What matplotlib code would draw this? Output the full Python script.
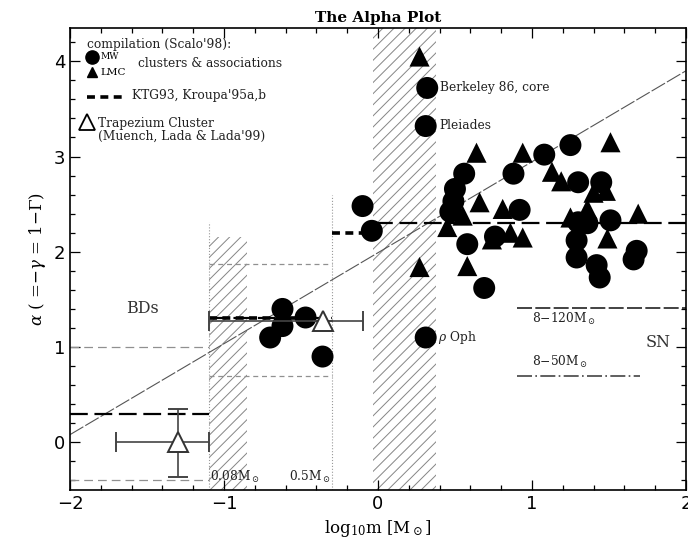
import numpy as np
import matplotlib.pyplot as plt
from matplotlib.ticker import MultipleLocator

plt.rcParams['mathtext.fontset'] = 'dejavuserif'
plt.rcParams['hatch.linewidth'] = 0.7

# MW clusters & associations (Scalo'98 compilation)
mw_x = [-0.70, -0.62, -0.62, -0.47, -0.36, -0.10, -0.04, 0.32, 0.31, 0.31,
        0.50, 0.56, 0.49, 0.47, 0.58, 0.69, 0.76, 0.88, 0.92, 1.08, 1.25,
        1.30, 1.45, 1.30, 1.36, 1.51, 1.29, 1.29, 1.42, 1.44, 1.68, 1.66]
mw_y = [1.10, 1.22, 1.40, 1.31, 0.90, 2.48, 2.22, 3.72, 3.32, 1.10,
        2.66, 2.82, 2.53, 2.42, 2.08, 1.62, 2.16, 2.82, 2.44, 3.02, 3.12,
        2.73, 2.73, 2.31, 2.30, 2.33, 2.12, 1.94, 1.86, 1.73, 2.01, 1.92]

# LMC clusters
lmc_x = [0.27, 0.27, 0.64, 0.94, 1.51, 0.66, 0.45, 0.81, 0.74, 0.86, 0.94,
         0.58, 1.13, 1.19, 1.48, 1.40, 1.36, 1.25, 1.69, 1.49, 0.55]
lmc_y = [4.05, 1.84, 3.04, 3.04, 3.15, 2.52, 2.26, 2.45, 2.13, 2.20, 2.15,
         1.85, 2.84, 2.74, 2.64, 2.62, 2.45, 2.36, 2.40, 2.14, 2.38]

# Trapezium cluster (Muench, Lada & Lada'99)
trap_x = [-1.30, -0.36]
trap_y = [0.00, 1.27]
trap_xlo = [0.40, 0.74]
trap_xhi = [0.20, 0.26]
trap_ylo = [0.36, 0.0]
trap_yhi = [0.35, 0.0]

# multi-part power law: (x from, x to, alpha)
kroupa = [(-2.0, -1.1, 0.3), (-1.1, -0.3, 1.3), (-0.02, 2.0, 2.3)]
kroupa_err = [(-2.0, -1.1, 1.0), (-2.0, -1.1, -0.4), (-1.1, -0.3, 1.87), (-1.1, -0.3, 0.70)]
ktg93 = [(-1.1, -0.5, 1.3), (-0.3, 0.0, 2.2)]
sn_120 = (0.9, 2.0, 1.41)
sn_50 = (0.9, 1.7, 0.70)

# straight line across the plot
line_x = [-2.0, 2.0]
line_y = [0.08, 3.90]

fig = plt.figure(figsize=(6.88, 5.48), dpi=100)
ax = fig.add_axes([0.1017, 0.106, 0.8953, 0.843])
ax.set_xlim(-2, 2)
ax.set_ylim(-0.5, 4.35)

# hatched mass ranges
ax.fill_between([-1.1, -0.85], -0.5, 2.15, facecolor='none', edgecolor='#858585',
                hatch='///', linewidth=0, zorder=1)
ax.fill_between([-0.03, 0.38], -0.5, 4.35, facecolor='none', edgecolor='#858585',
                hatch='///', linewidth=0, zorder=1)
ax.plot([-1.1, -1.1], [-0.5, 2.31], color='#999999', ls=':', lw=0.8, zorder=1)
ax.plot([-0.3, -0.3], [-0.5, 2.6], color='#999999', ls=':', lw=0.8, zorder=1)

ax.plot(line_x, line_y, color='#555555', lw=0.8, dashes=(14, 2), zorder=2)

for x0, x1, a in kroupa:
    ax.plot([x0, x1], [a, a], color='black', lw=1.6, dashes=(8, 3), zorder=2)
for x0, x1, a in kroupa_err:
    ax.plot([x0, x1], [a, a], color='#909090', lw=0.9, dashes=(7, 4) if x0 == -2 else (4, 3), zorder=2)
for x0, x1, a in ktg93:
    ax.plot([x0, x1], [a, a], color='black', lw=2.6, dashes=(2.2, 1.5), zorder=3)

ax.plot([sn_120[0], sn_120[1]], [sn_120[2]] * 2, color='#222222', lw=1.2, dashes=(9, 2), zorder=2)
ax.plot([sn_50[0], sn_50[1]], [sn_50[2]] * 2, color='#444444', lw=1.2, dashes=(9, 2, 1, 2), zorder=2)

ax.scatter(mw_x, mw_y, s=250, marker='o', color='black', edgecolors='none', zorder=4)
ax.scatter(lmc_x, lmc_y, s=210, marker='^', color='black', edgecolors='none', zorder=4)

ax.errorbar(trap_x, trap_y, xerr=[trap_xlo, trap_xhi], yerr=[trap_ylo, trap_yhi],
            fmt='^', ms=15, mfc='white', mec='#333333', mew=1.4, ecolor='#444444',
            elinewidth=1.2, capsize=7, capthick=1.2, zorder=5)

# legend block
tf = dict(family='DejaVu Serif', fontsize=8.8, color='#222222')
ax.text(-1.89, 4.18, "compilation (Scalo'98):", va='center', **tf)
ax.plot([-1.86], [4.04], 'o', color='black', ms=9.5)
ax.plot([-1.86], [3.89], '^', color='black', ms=7.5)
ax.text(-1.80, 4.05, 'MW', va='center', family='DejaVu Serif', fontsize=6.5)
ax.text(-1.80, 3.88, 'LMC', va='center', family='DejaVu Serif', fontsize=7.5)
ax.text(-1.56, 3.98, 'clusters & associations', va='center', **tf)
ax.plot([-1.89, -1.66], [3.63, 3.63], color='black', lw=2.6, dashes=(2.2, 1.5))
ax.text(-1.60, 3.64, "KTG93, Kroupa'95a,b", va='center', **tf)
ax.plot([-1.89], [3.36], '^', ms=11, mfc='white', mec='black', mew=1.3)
ax.text(-1.82, 3.35, 'Trapezium Cluster', va='center', **tf)
ax.text(-1.82, 3.21, "(Muench, Lada & Lada'99)", va='center', **tf)

# labels on the plot
ax.text(0.40, 3.72, 'Berkeley 86, core', va='center', **tf)
ax.text(0.40, 3.33, 'Pleiades', va='center', **tf)
ax.text(0.39, 1.10, r'$\rho$ Oph', va='center', **tf)
ax.text(-1.53, 1.40, 'BDs', ha='center', va='center', family='DejaVu Serif', fontsize=11.5, color='#333333')
ax.text(1.82, 1.05, 'SN', ha='center', va='center', family='DejaVu Serif', fontsize=11.5, color='#333333')
ax.text(1.00, 1.29, r'8$-$120M$_\odot$', va='center', **tf)
ax.text(1.00, 0.84, r'8$-$50M$_\odot$', va='center', **tf)
ax.text(-1.09, -0.36, r'0.08M$_\odot$', va='center', **tf)
ax.text(-0.58, -0.36, r'0.5M$_\odot$', va='center', **tf)

ax.xaxis.set_major_locator(MultipleLocator(1))
ax.xaxis.set_minor_locator(MultipleLocator(0.2))
ax.yaxis.set_major_locator(MultipleLocator(1))
ax.yaxis.set_minor_locator(MultipleLocator(0.2))
ax.tick_params(which='both', direction='in', top=True, right=True, labelsize=13, width=0.9)
ax.tick_params(which='major', length=7)
ax.tick_params(which='minor', length=3.5)
for sp in ax.spines.values():
    sp.set_linewidth(1.2)

ax.set_xlabel(r'log$_{10}$m [M$_\odot$]', family='DejaVu Serif', fontsize=12)
ax.set_ylabel(r'$\alpha$ ( =$-\gamma$ = 1$-\Gamma$)', family='DejaVu Serif', fontsize=12)
ax.set_title('The Alpha Plot', family='DejaVu Serif', fontsize=11, fontweight='bold', pad=4)

fig.savefig('out.png', dpi=100)
